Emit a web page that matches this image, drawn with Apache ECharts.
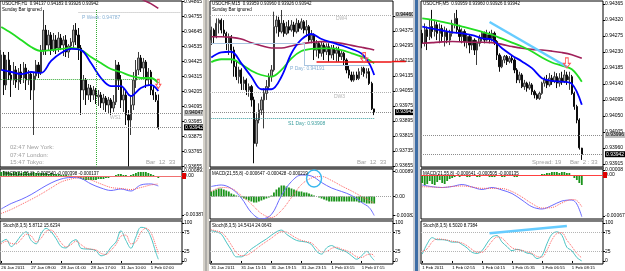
<!DOCTYPE html>
<html><head><meta charset="utf-8">
<script src="https://cdn.jsdelivr.net/npm/echarts@6.0.0/dist/echarts.min.js"></script>
<style>html,body{margin:0;padding:0;background:#fff;overflow:hidden}#chart{width:625px;height:271px}</style>
</head><body><div id="chart"></div>
<script>
// ================= DATA =================
// Prices are in points (1 point = 0.00001). Candles: [open, close, low, high]
const h1Candles = [
[94363,94473,94289,94509],[94473,94253,94179,94495],[94253,94436,94216,94473],[94436,94326,94289,94495],
[94326,94289,94165,94399],[94289,94363,94253,94421],[94363,94275,94231,94392],[94275,94348,94216,94377],
[94348,94304,94260,94407],[94304,94377,94267,94421],[94377,94289,94216,94407],[94289,94333,94253,94363],
[94333,94216,94143,94348],[94216,94319,93886,94348],[94319,94399,94289,94436],[94399,94348,94304,94421],
[94348,94509,94326,94546],[94509,94656,94473,94803],[94656,94546,94473,94693],[94546,94619,94509,94656],
[94619,94509,94473,94641],[94509,94583,94495,94634],[94583,94524,94480,94619],[94524,94597,94495,94641],
[94597,94546,94509,94627],[94546,94583,94465,94612],[94583,94495,94458,94619],[94495,94539,94451,94553],
[94539,94568,94509,94597],[94568,94656,94524,94693],[94656,94619,94546,94707],[94619,94524,94436,94671],
[94524,94216,94033,94546],[94216,94289,94143,94326],[94289,94179,94106,94304],[94179,94231,94143,94260],
[94231,94179,94128,94253],[94179,94216,94143,94245],[94216,94165,94113,94231],[94165,94179,94099,94216],
[94179,94121,94084,94201],[94121,94157,94069,94187],[94157,94106,94055,94172],[94106,94143,94047,94165],
[94143,94084,94033,94157],[94084,94128,94055,94179],[94128,94399,94106,94436],[94399,94289,94216,94421],
[94289,94143,94084,94326],[94143,94179,94055,94231],[94179,94033,93959,94216],[94033,93996,93655,94069],
[93996,94106,93886,94179],[94106,94289,94069,94348],[94289,94363,94231,94436],[94363,94451,94326,94495],
[94451,94377,94348,94473],[94377,94421,94304,94451],[94421,94289,94231,94436],[94289,94348,94245,94377],
[94348,94216,94179,94363],[94216,94179,94143,94253],[94179,94143,94128,94201],[94137,93942,93926,94183]
];
const m15Candles = [
[94327,94380,94300,94398],[94380,94344,94309,94389],[94344,94416,94336,94442],[94416,94433,94362,94442],
[94433,94380,94362,94442],[94380,94362,94344,94433],[94362,94309,94273,94371],[94309,94344,94247,94362],
[94344,94273,94202,94353],[94273,94184,94131,94291],[94184,94131,94113,94220],[94131,94167,94095,94184],
[94167,94095,94060,94176],[94095,94113,94060,94131],[94113,94060,94033,94122],[94060,94078,94024,94095],
[94078,94007,93971,94087],[94007,93775,93669,94024],[93775,93900,93758,93935],[93900,93953,93882,93989],
[93953,94007,93927,94024],[94007,94042,93855,94069],[94042,94078,94007,94113],[94078,94131,94060,94149],
[94131,94167,94104,94193],[94167,94398,94158,94478],[94398,94433,94362,94460],[94433,94371,94344,94451],
[94371,94416,94362,94487],[94416,94362,94344,94433],[94362,94398,94353,94424],[94398,94380,94362,94433],
[94380,94407,94371,94433],[94407,94371,94344,94424],[94371,94416,94362,94442],[94416,94389,94371,94433],
[94389,94424,94380,94442],[94424,94380,94362,94433],[94380,94398,94344,94433],[94398,94327,94318,94407],
[94327,94353,94309,94380],[94353,94273,94220,94362],[94273,94309,94238,94327],[94309,94256,94229,94318],
[94256,94300,94238,94318],[94300,94264,94220,94312],[94264,94291,94247,94309],[94291,94247,94211,94309],
[94247,94282,94229,94300],[94282,94256,94220,94300],[94256,94273,94211,94291],[94273,94238,94211,94291],
[94238,94256,94220,94273],[94256,94220,94193,94264],[94220,94167,94149,94229],[94167,94140,94122,94193],
[94140,94113,94104,94158],[94113,94140,94104,94158],[94140,94122,94113,94158],[94122,94158,94113,94176],
[94158,94176,94140,94184],[94176,94149,94131,94184],[94149,94158,94122,94176],[94158,94095,94087,94176],
[94095,93960,93953,94104],[93959,93942,93926,93960]
];
const m5Candles = [
[94282,94254,94240,94292],[94254,94292,94245,94310],[94292,94273,94235,94301],[94273,94301,94263,94320],
[94301,94287,94268,94348],[94287,94306,94273,94320],[94306,94282,94263,94315],[94282,94296,94254,94310],
[94296,94273,94259,94306],[94273,94287,94245,94301],[94287,94263,94254,94296],[94263,94282,94249,94292],
[94282,94310,94273,94320],[94310,94324,94296,94339],[94324,94292,94282,94348],[94292,94273,94259,94306],
[94273,94287,94254,94296],[94287,94259,94245,94293],[94259,94273,94240,94282],[94273,94249,94226,94278],
[94249,94263,94235,94273],[94263,94235,94221,94268],[94235,94254,94193,94263],[94254,94268,94245,94278],
[94268,94282,94259,94287],[94282,94263,94254,94287],[94263,94278,94259,94292],[94278,94268,94254,94287],
[94268,94282,94259,94292],[94282,94259,94249,94287],[94259,94221,94207,94263],[94221,94188,94174,94226],
[94188,94207,94184,94217],[94207,94217,94198,94221],[94217,94203,94193,94221],[94203,94212,94198,94218],
[94212,94207,94198,94221],[94207,94179,94170,94212],[94179,94151,94142,94184],[94151,94165,94142,94174],
[94165,94132,94128,94170],[94132,94142,94123,94151],[94142,94128,94118,94146],[94128,94137,94123,94146],
[94137,94118,94109,94142],[94118,94109,94099,94123],[94109,94099,94095,94113],[94099,94113,94095,94118],
[94113,94142,94109,94146],[94142,94151,94132,94160],[94151,94137,94128,94165],[94137,94156,94132,94170],
[94156,94146,94137,94165],[94146,94160,94142,94174],[94160,94142,94128,94170],[94142,94156,94132,94170],
[94156,94146,94137,94174],[94146,94165,94142,94179],[94165,94151,94137,94174],[94151,94160,94123,94174],
[94160,94113,94109,94165],[94113,94076,94067,94118],[94076,94038,94029,94081],[94038,93960,93955,94043],
[93959,93942,93926,93960]
];

// Moving averages (bar index / value in points)
const h1MaIdx    = [0,4,8,12,16,20,24,28,32,36,40,44,48,52,56,60,63];
const h1MaGreen  = [94678,94634,94583,94531,94502,94509,94517,94524,94509,94458,94414,94370,94348,94319,94304,94304,94267];
const h1MaBlue   = [94363,94348,94333,94348,94341,94429,94487,94517,94509,94414,94304,94245,94245,94172,94231,94253,94209];
const h1PurpleIdx= [44,48,52,56,60,63];
const h1MaPurple = [95000,94960,94925,94885,94850,94815];

const m15MaIdx    = [0,4,8,12,16,20,24,28,32,36,40,44,48,52,56,60,63,65];
const m15MaPurple = [94344,94344,94341,94332,94312,94296,94284,94284,94295,94307,94314,94318,94316,94309,94298,94288,94280,94273];
const m15MaBlue   = [94234,94261,94264,94202,94131,94064,94064,94131,94256,94330,94359,94332,94314,94298,94279,94254,94202,94140];
const m15MaGreen  = [94209,94224,94224,94197,94163,94140,94131,94167,94229,94268,94280,94282,94282,94273,94256,94238,94220,94202];

const m5MaIdx    = [0,4,8,12,16,20,24,28,32,36,40,44,48,52,56,60,64];
const m5MaPurple = [94254,94256,94258,94259,94258,94257,94257,94256,94251,94245,94240,94237,94235,94232,94228,94222,94212];
const m5MaGreen  = [94324,94320,94314,94308,94301,94294,94286,94278,94267,94256,94245,94231,94214,94200,94191,94181,94146];
const m5MaBlue   = [94301,94295,94290,94285,94282,94277,94268,94264,94240,94220,94203,94184,94156,94148,94146,94140,94081];

// MACD
const h1MacdHist = [0.0004,0.0005,0.0004,0.0004,0.0003,0.0004,0.0004,0.0004,0.0003,0.0004,0.0004,0.0003,0.0003,0.0004,0.0003,0.0003,
 0.0003,0.0003,0.0003,0.0002,0.0003,0.0002,0.0002,0.0002,0.0001,0.0001,0.0001,0.00005,0.00005,0,-0.0001,-0.0002,
 -0.0003,-0.0004,-0.0004,-0.0004,-0.0004,-0.0004,-0.0004,-0.0003,-0.0003,-0.0003,-0.0002,-0.0002,-0.0001,
 0,0.0001,0.0002,0.0002,0.0001,0.0001,0,0.0001,0.0002,0.0003,0.0004,0.0004,0.0004,0.0004,0.0003,0.0002,0.0001,0,-0.0002];
const h1MacdIdx  = [0,4,8,12,16,20,24,28,32,36,40,44,48,52,56,60,63];
const h1MacdMain = [-0.00327,-0.00273,-0.00233,-0.00184,-0.00124,-0.00069,-0.00030,-0.00015,-0.00025,-0.00079,-0.00119,-0.00144,-0.00129,-0.00149,-0.00089,-0.00079,-0.00099];
const h1MacdSig  = [-0.00372,-0.00332,-0.00283,-0.00233,-0.00179,-0.00119,-0.00060,-0.00030,-0.00015,-0.00040,-0.00079,-0.00114,-0.00124,-0.00134,-0.00114,-0.00089,-0.00079];

const m15MacdHist = [0.0002,0.00024,0.00028,0.00032,0.00032,0.00028,0.00024,0.0002,0.00012,0.00008,0.00004,0,-0.00004,
 -0.00008,-0.00012,-0.00016,-0.0002,-0.00024,-0.00024,-0.0002,-0.00016,-0.00012,-0.00008,-0.00004,0.00004,0.00016,
 0.00028,0.00036,0.00044,0.00044,0.0004,0.00036,0.00032,0.00028,0.00024,0.0002,0.0002,0.00016,0.00016,0.00012,0.00008,0.00004,
 0,-0.00004,-0.00008,-0.00012,-0.00016,-0.0002,-0.0002,-0.0002,-0.0002,-0.0002,-0.0002,-0.0002,-0.0002,-0.0002,-0.0002,-0.0002,-0.0002,
 -0.00024,-0.00024,-0.00024,-0.00028,-0.00028,-0.00028,-0.00028];
const m15MacdIdx  = [0,4,8,12,16,20,24,28,32,36,40,44,48,52,56,60,63,65];
const m15MacdMain = [0.00040,0.00046,0.00032,-0.00006,-0.00064,-0.00090,-0.00072,0.00004,0.00060,0.00086,0.00082,0.00056,0.00034,0.00020,0.00004,-0.00024,-0.00044,-0.00076];
const m15MacdSig  = [0.00020,0.00036,0.00032,0.00004,-0.00030,-0.00068,-0.00084,-0.00056,-0.00004,0.00048,0.00074,0.00080,0.00064,0.00042,0.00022,0.00000,-0.00016,-0.00028];

const m5MacdHist = [-0.00013,-0.000163,-0.000147,-0.000098,-0.000147,-0.000163,-0.000114,-0.000082,-0.00013,-0.000147,-0.000098,-0.000065,-0.000049,
 -0.000033,-0.000016,-0.000033,-0.000016,-0.000016,-0.000033,-0.000033,-0.000016,-0.000016,-0.000033,-0.000033,-0.000016,-0.000016,-0.000016,
 -0.000033,-0.000033,-0.000033,-0.000016,-0.000016,-0.000033,-0.000033,-0.000016,-0.000016,-0.000016,-0.000033,-0.000033,-0.000016,-0.000016,
 -0.000016,-0.000016,-0.000016,-0.000016,-0.000016,-0.000016,
 0,0.000016,0.000016,0.000033,0.000033,0.000049,0.000049,0.000049,0.000033,0.000049,0.000049,0.000033,0.000033,
 0,-0.000049,-0.000082,-0.00013,-0.000163];
const m5MacdIdx  = [0,4,8,12,16,20,24,28,32,36,40,44,48,52,56,60,62,64];
const m5MacdMain = [-0.000163,-0.000191,-0.000204,-0.000187,-0.000155,-0.000196,-0.000236,-0.000204,-0.000245,-0.000302,-0.000408,-0.000517,-0.000554,-0.000497,-0.000424,-0.000408,-0.000473,-0.000680];
const m5MacdSig  = [-0.000191,-0.000196,-0.000204,-0.000187,-0.000179,-0.000196,-0.000217,-0.000217,-0.000220,-0.000269,-0.000359,-0.000465,-0.000538,-0.000530,-0.000456,-0.000399,-0.000416,-0.000517];

// Stochastic
const h1StochIdx = [0,2,4,6,8,10,12,14,16,18,20,22,24,26,28,30,32,34,36,38,40,42,44,46,48,50,52,54,56,58,60,62,63];
const h1StochK = [49.5,56.8,37.8,49.5,67.6,76.6,54,45,72,85.6,76.6,58.6,37.8,34.2,49.5,55.9,33.3,31.5,30.6,27,13.5,18,36,49.5,79.3,54,33.3,63,88.3,85.6,63,22.5,4.5];
const h1StochD = [45,52,46,45,57,70,66,50,60,78,81,68,48,37,43,52,43,34,31,29,20,17,28,43,65,68,45,50,75,86,75,40,20];
const m15StochIdx = [0,2,4,6,8,10,12,14,16,18,20,22,24,26,28,30,32,34,36,38,40,42,44,46,48,50,52,54,56,58,60,62,64,65];
const m15StochK = [79.3,76.6,70.3,49.5,28.8,10.8,10.8,19.8,31.5,40.5,49.5,57.7,67.6,76.6,81.1,70.3,61.3,54,51.4,49.5,43.2,25.2,18,34.2,40.5,33.3,28.8,23.4,13.5,4.5,13.5,25.2,9,1.8];
const m15StochD = [82,79,75,62,42,22,14,15,22,32,42,51,60,70,77,76,68,60,54,51,47,35,24,25,33,36,31,27,20,11,9,16,18,12];
const m5StochIdx = [0,2,4,6,8,10,12,14,16,18,20,22,24,26,28,30,32,34,36,38,40,42,44,46,48,50,52,54,56,58,60,62,64];
const m5StochK = [18,45,61.3,55.9,55.9,54,49.5,49.5,43.2,34.2,22.5,19.8,27,46.8,63,66.7,49.5,37.8,27,30.6,27,20.7,18,6.3,13.5,45,70.3,76.6,67.6,36,27,9,0];
const m5StochD = [25,32,50,58,57,55,52,50,47,40,30,23,23,35,52,63,60,47,35,30,28,24,20,12,10,28,55,72,74,55,38,20,8];

// Levels / annotations (points)
const bidPrice = 93942;
const h1Levels = {ws1: 94047, pWeek: 94787, greenH: 94297};
const m15Levels = {dw4: 94460, dw3: 94049, s1Day: 93908, pDayPrev: 94311, pDay: 94191, red: 94212};
const m5Levels = {lvl: 93996};

// Axis tick labels
const h1PriceTicks  = [93655,93765,93875,93985,94095,94205,94315,94425,94535,94645,94755,94865];
const m15PriceTicks = [93655,93735,93815,93895,93975,94055,94135,94215,94295,94375,94455];
const m5PriceTicks  = [93915,93960,94005,94050,94095,94140,94185,94230,94275,94320,94365];
const h1MacdTicks  = [[0.0005,'0.000891'],[0,'0.00'],[-0.00387,'-0.00387']];
const m15MacdTicks = [[0.001,'0.000891'],[0,'0.00'],[-0.00075,'-0.00082']];
const m5MacdTicks  = [[0.00008,'0.00008'],[0,'0.00'],[-0.00067,'-0.00067']];
const stochTicks = [0,25,75,100];
const h1TimeTicks  = [[0,'26 Jan 2011'],[12,'27 Jan 09:00'],[24,'28 Jan 01:00'],[36,'28 Jan 17:00'],[48,'31 Jan 10:00'],[60,'1 Feb 02:00']];
const m15TimeTicks = [[0,'31 Jan 2011'],[12,'31 Jan 15:15'],[24,'31 Jan 19:15'],[36,'31 Jan 23:15'],[48,'1 Feb 03:15'],[60,'1 Feb 07:15']];
const m5TimeTicks  = [[0,'1 Feb 2011'],[12,'1 Feb 02:55'],[24,'1 Feb 04:15'],[36,'1 Feb 05:35'],[48,'1 Feb 06:55'],[60,'1 Feb 08:15']];

// ================= CHART =================
const FONT = '"Liberation Sans", Arial, sans-serif';
const N = 73;
const fmtP = v => (v / 1e5).toFixed(5);
const pairs = (idx, vals) => idx.map((i, k) => [i, vals[k]]);
const catData = ticks => { const a = new Array(N).fill(''); ticks.forEach(t => a[t[0]] = t[1]); return a; };

const cols = [{left:0,width:182},{left:210,width:183},{left:421,width:182}];
const rows = [{top:1,height:166},{top:169,height:50},{top:221,height:43}];
const priceRange = [[93651,94869],[93649,94535],[93906,94373]];
const priceTicks = [h1PriceTicks, m15PriceTicks, m5PriceTicks];
const macdRange = [[-0.00427,0.000694],[-0.0009,0.0011],[-0.000717,0.000098]];
const macdTicks = [h1MacdTicks, m15MacdTicks, m5MacdTicks];
const timeTicks = [h1TimeTicks, m15TimeTicks, m5TimeTicks];

const grids = [], xAxes = [], yAxes = [], series = [];
const gi = (c, r) => c * 3 + r;
for (let c = 0; c < 3; c++) {
  for (let r = 0; r < 3; r++) {
    grids.push({left: cols[c].left, top: rows[r].top, width: cols[c].width, height: rows[r].height,
      show: true, borderColor: '#000', borderWidth: 1, backgroundColor: '#fff', containLabel: false, outerBoundsMode: 'none'});
    const isBottom = r === 2;
    xAxes.push({type: 'category', gridIndex: gi(c, r), data: catData(timeTicks[c]), boundaryGap: true,
      axisLine: {show: false}, splitLine: {show: false},
      axisTick: {show: isBottom, interval: (i, v) => v !== '', alignWithLabel: true, length: 2, lineStyle: {color: '#000', width: 1}},
      axisLabel: {show: isBottom, interval: (i, v) => v !== '', align: 'left', margin: 2, fontSize: 4.3, color: '#000', fontFamily: FONT}});
    let y = {type: 'value', gridIndex: gi(c, r), position: 'right', scale: true,
      axisLine: {show: false}, splitLine: {show: false},
      axisTick: {show: true, length: 2, lineStyle: {color: '#000'}},
      axisLabel: {margin: 2, fontSize: 5, color: '#000', fontFamily: FONT}};
    if (r === 0) {
      y.min = priceRange[c][0]; y.max = priceRange[c][1];
      y.axisLabel.customValues = priceTicks[c]; y.axisTick.customValues = priceTicks[c];
      y.axisLabel.formatter = fmtP;
    } else if (r === 1) {
      const t = macdTicks[c];
      y.min = macdRange[c][0]; y.max = macdRange[c][1];
      y.axisLabel.customValues = t.map(d => d[0]); y.axisTick.customValues = t.map(d => d[0]);
      y.axisLabel.formatter = v => { const f = t.find(d => Math.abs(d[0] - v) < 1e-9); return f ? f[1] : ''; };
    } else {
      y.min = -8; y.max = 105;
      y.axisLabel.customValues = stochTicks; y.axisTick.customValues = stochTicks;
      y.axisLabel.formatter = v => String(v);
    }
    yAxes.push(y);
  }
}

const arrowPath = 'path://M3,0L7,0L7,6L10,6L5,11L0,6L3,6Z';
const dotted = (color) => ({type: 'dotted', color: color || '#8c8c8c', width: 1});
const priceLabel = (bg, fg) => ({show: true, position: 'end', distance: 2, formatter: p => fmtP(p.value),
  backgroundColor: bg, color: fg, fontSize: 5, fontFamily: FONT, padding: [1, 1, 0, 1]});
const noLabel = {show: false};

function candle(c, data, markLines, markPoints) {
  const g = gi(c, 0);
  series.push({type: 'candlestick', xAxisIndex: g, yAxisIndex: g, data, barWidth: 1.8, z: 2,
    itemStyle: {color: '#a6a6a6', color0: '#0c0c0c', borderColor: '#3c3c3c', borderColor0: '#0c0c0c', borderWidth: 1},
    markLine: {symbol: 'none', silent: true, animation: false, data: markLines},
    markPoint: {silent: true, animation: false, label: {show: false}, data: markPoints}});
}
function line(g, data, color, width, type, z, extra) {
  series.push(Object.assign({type: 'line', xAxisIndex: g, yAxisIndex: g, data, smooth: 0.35, symbol: 'none', showSymbol: false,
    lineStyle: {color, width, type: type || 'solid'}, z: z || 3, silent: true, animation: false}, extra || {}));
}
const arrowMark = (i, v, size) => ({coord: [i, v], symbol: arrowPath, symbolSize: size,
  itemStyle: {color: 'rgba(255,255,255,0)', borderColor: '#ff5a5a', borderWidth: 1}});

// ---- Panel 1 (H1)
candle(0, h1Candles, [
  {yAxis: h1Levels.ws1, lineStyle: dotted(), label: priceLabel('#c0c0c0', '#000')},
  {yAxis: bidPrice, lineStyle: dotted(), label: priceLabel('#000', '#fff')},
  [{coord: [31, h1Levels.pWeek], lineStyle: dotted('#b4b4b4'), label: noLabel}, {coord: [72, h1Levels.pWeek]}],
  [{coord: [0, h1Levels.greenH], lineStyle: dotted('#33aa33'), label: noLabel}, {coord: [63, h1Levels.greenH]}],
  [{coord: [38, 94803], lineStyle: dotted('#33aa33'), label: noLabel}, {coord: [38, 93655]}]
], [arrowMark(63, 94260, [5, 9])]);
line(gi(0,0), pairs(h1MaIdx, h1MaGreen), '#22dd22', 1.8);
line(gi(0,0), pairs(h1MaIdx, h1MaBlue), '#0000ff', 1.8, null, 4);
line(gi(0,0), pairs(h1PurpleIdx, h1MaPurple), '#a0205a', 1.6);

// ---- Panel 2 (M15)
candle(1, m15Candles, [
  {yAxis: m15Levels.dw4, lineStyle: dotted('#b0b0b0'), label: priceLabel('#c0c0c0', '#000')},
  {yAxis: m15Levels.dw3, lineStyle: dotted('#b0b0b0'), label: noLabel},
  {yAxis: bidPrice, lineStyle: dotted(), label: priceLabel('#000', '#fff')},
  [{coord: [0, m15Levels.s1Day], lineStyle: dotted('#3a9e9e'), label: noLabel}, {coord: [65, m15Levels.s1Day]}],
  [{coord: [0, m15Levels.pDayPrev], lineStyle: {color: '#a8c4e0', width: 1, type: 'solid'}, label: noLabel}, {coord: [37, m15Levels.pDayPrev]}],
  [{coord: [37, m15Levels.pDayPrev], lineStyle: {color: '#a8c4e0', width: 1, type: 'solid'}, label: noLabel}, {coord: [37, m15Levels.pDay]}],
  [{coord: [37, m15Levels.pDay], lineStyle: {color: '#a8c4e0', width: 1, type: 'solid'}, label: noLabel}, {coord: [63, m15Levels.pDay]}],
  [{coord: [42, m15Levels.red], lineStyle: {color: '#ee1111', width: 1.5, type: 'solid'},
    label: {show: true, position: 'end', distance: 0, formatter: '{a|}', rich: {a: {width: 14, height: 1.5, backgroundColor: '#ee1111'}}}},
   {coord: [72, m15Levels.red]}]
], [arrowMark(61, 94233, [7, 10])]);
line(gi(1,0), pairs(m15MaIdx, m15MaPurple), '#a0205a', 1.6);
line(gi(1,0), pairs(m15MaIdx, m15MaGreen), '#22dd22', 1.8);
line(gi(1,0), pairs(m15MaIdx, m15MaBlue), '#0000ff', 1.8, null, 4);

// ---- Panel 3 (M5)
candle(2, m5Candles, [
  {yAxis: m5Levels.lvl, lineStyle: dotted(), label: priceLabel('#c0c0c0', '#000')},
  {yAxis: bidPrice, lineStyle: dotted(), label: priceLabel('#000', '#fff')},
  [{coord: [27, 94314], lineStyle: {color: '#66ccff', width: 2.5, type: 'solid'}, label: noLabel}, {coord: [58, 94188]}]
], [arrowMark(58, 94199, [7, 10])]);
line(gi(2,0), pairs(m5MaIdx, m5MaPurple), '#a0205a', 1.6);
line(gi(2,0), pairs(m5MaIdx, m5MaGreen), '#22dd22', 1.8);
line(gi(2,0), pairs(m5MaIdx, m5MaBlue), '#0000ff', 1.8, null, 4);

// ---- MACD panels
const macdSets = [
  [h1MacdHist, h1MacdIdx, h1MacdMain, h1MacdSig, {color: '#f07070', type: 'solid', width: 1}, true],
  [m15MacdHist, m15MacdIdx, m15MacdMain, m15MacdSig, {color: '#a0a0a0', type: 'dotted', width: 1}, false],
  [m5MacdHist, m5MacdIdx, m5MacdMain, m5MacdSig, {color: '#ff4040', type: 'solid', width: 1}, true]
];
macdSets.forEach((s, c) => {
  const g = gi(c, 1);
  series.push({type: 'bar', xAxisIndex: g, yAxisIndex: g, data: s[0], barWidth: 1.8, z: 2, silent: true, animation: false,
    itemStyle: {color: '#1a931a'},
    markLine: {symbol: 'none', silent: true, animation: false, data: [{yAxis: 0, lineStyle: s[4],
      label: s[5] ? {show: true, position: 'end', distance: 0, formatter: '{a|}', rich: {a: {width: 4, height: 6, backgroundColor: '#e00000'}}} : noLabel}]}});
  line(g, pairs(s[1], s[2]), '#6a6aff', 1, 'solid', 4, c === 1 ? {markPoint: {silent: true, animation: false, label: {show: false},
    data: [{coord: [41, 0.00072], symbol: 'circle', symbolSize: [15, 17], itemStyle: {color: 'rgba(0,0,0,0)', borderColor: '#3ab8ee', borderWidth: 1.5}}]}} : null);
  line(g, pairs(s[1], s[3]), '#ff6060', 1, 'dotted', 4);
});

// ---- Stochastic panels
const stochSets = [[h1StochIdx, h1StochK, h1StochD], [m15StochIdx, m15StochK, m15StochD], [m5StochIdx, m5StochK, m5StochD]];
stochSets.forEach((s, c) => {
  const g = gi(c, 2);
  const ml = [{yAxis: 25}, {yAxis: 75}];
  if (c === 2) ml.push([{coord: [27, 73], lineStyle: {color: '#66ccff', width: 2.5, type: 'solid'}}, {coord: [58, 92]}]);
  line(g, pairs(s[0], s[1]), '#4cc4c4', 1, 'solid', 4, {markLine: {symbol: 'none', silent: true, animation: false,
    lineStyle: {type: 'dotted', color: '#b4b4b4', width: 1}, label: {show: false}, data: ml}});
  line(g, pairs(s[0], s[2]), '#ff6060', 1, 'dotted', 4);
});

// ---- Texts & frame graphics
const T = (x, y, text, size, fill) => ({type: 'text', x, y, z: 100, silent: true,
  style: {text, fill: fill || '#000', fontSize: size, fontFamily: FONT, verticalAlign: 'top'}});
const R = (x, y, w, h, fill) => ({type: 'rect', z: 100, silent: true, shape: {x, y, width: w, height: h}, style: {fill}});
const graphics = [
  R(203, 0, 6, 271, '#d4d0c8'), R(205.5, 0, 1, 271, '#8c8c8c'),
  R(413, 0, 7, 271, '#c8ccd4'), R(415, 0, 3, 271, '#3f6ea6'),
  T(2, 1.5, 'USDCHF,H1  0.94137 0.94183 0.93926 0.93942', 4.5), T(2, 7.5, 'Sunday Bar ignored', 4.5),
  T(212, 1.5, 'USDCHF,M15  0.93959 0.93960 0.93926 0.93942', 4.5), T(212, 7.5, 'Sunday Bar ignored', 4.5),
  T(423, 1.5, 'USDCHF,M5  0.93959 0.93960 0.93926 0.93942', 4.5),
  T(82, 15.5, 'P Week: 0.94787', 5, '#86b0d4'),
  T(110, 115, 'WS1', 5, '#b4b4b4'),
  T(336, 16.5, 'DW4', 5, '#b4b4b4'), T(334, 94.5, 'DW3', 5, '#b4b4b4'),
  T(290, 66, 'P Day: 0.94191', 5, '#86b0d4'),
  T(288, 121, 'S1 Day: 0.93908', 5, '#3a9e9e'),
  T(10, 144.5, '02:47 New York:', 6, '#a0a0a0'), T(10, 152, '07:47 London:', 6, '#a0a0a0'), T(10, 159.5, '15:47 Tokyo:', 6, '#a0a0a0'),
  T(146, 159.5, 'Bar  12  33', 6, '#a0a0a0'),
  T(357, 159.5, 'Bar  12  33', 6, '#a0a0a0'),
  T(532, 159.5, 'Spread: 19', 6, '#a0a0a0'), T(570, 159.5, 'Bar  2 : 33', 6, '#a0a0a0'),
  T(3, 171, 'MACD(21,55,8) -0.000540 -0.000398 -0.000137', 4.5),
  T(212, 171, 'MACD(21,55,8) -0.000647 -0.000428 -0.000219', 4.5),
  T(423, 171, 'MACD(21,55,8) -0.000641 -0.000505 -0.000135', 4.5),
  T(3, 223, 'Stoch(8,3,5) 5.8712 15.6234', 4.5),
  T(212, 223, 'Stoch(8,3,5) 14.5414 24.0643', 4.5),
  T(423, 223, 'Stoch(8,3,5) 6.5020 8.7384', 4.5)
];
cols.forEach(cl => {
  graphics.push(R(cl.left, 167, cl.width + 1, 2, '#5a5a5a'));
  graphics.push(R(cl.left, 219, cl.width + 1, 2, '#7a7a7a'));
});

const chart = echarts.init(document.getElementById('chart'), null, {renderer: 'canvas'});
chart.setOption({
  animation: false, backgroundColor: '#fff',
  grid: grids, xAxis: xAxes, yAxis: yAxes, series, graphic: graphics
});
</script></body></html>
